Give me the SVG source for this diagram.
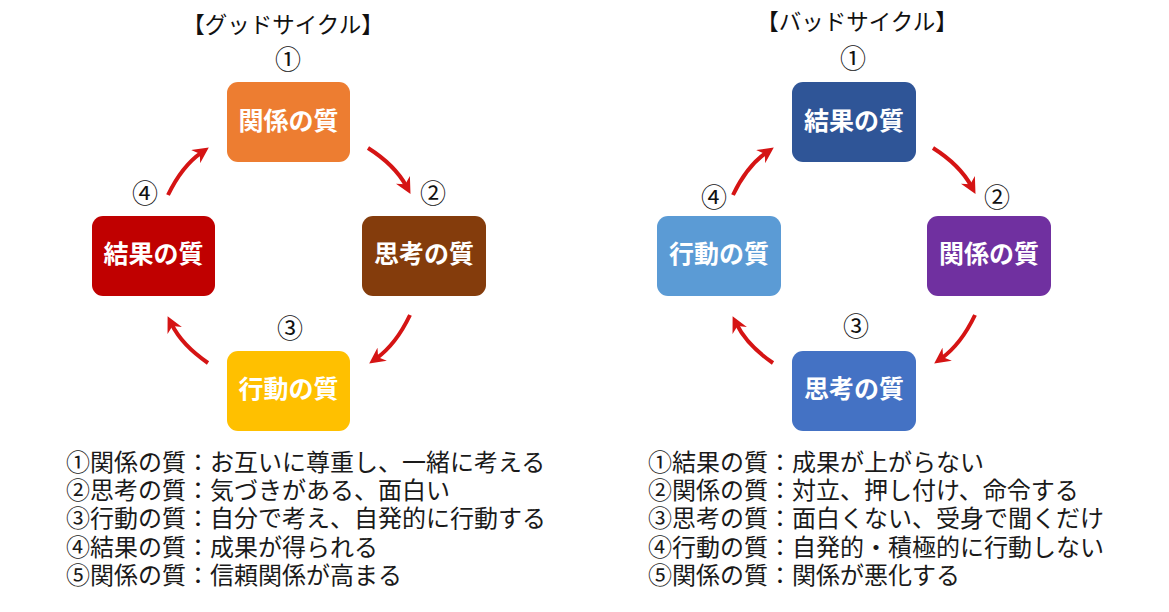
<svg xmlns="http://www.w3.org/2000/svg" width="1169" height="612" viewBox="0 0 1169 612">
<defs>
<marker id="ah" viewBox="0 0 16 16" refX="7" refY="8" markerWidth="16" markerHeight="16" markerUnits="userSpaceOnUse" orient="auto">
<path d="M0,0 L16,8 L0,16 L5,8 Z" fill="#D51414"/>
</marker>
</defs>
<style>
text{font-family:"Noto Sans CJK JP","Noto Sans",sans-serif;}
.title{font-size:22.5px;fill:#111;text-anchor:middle;}
.num{font-size:26px;fill:#111;text-anchor:middle;}
.lbl{font-size:25px;font-weight:bold;fill:#fff;text-anchor:middle;}
.list{font-size:24px;fill:#1a1a1a;}
.box{stroke:none;}
.conn{fill:none;stroke:#D51414;stroke-width:4;marker-end:url(#ah);}
</style>
<rect width="1169" height="612" fill="#fff"/>

<text class="title" x="283" y="33">【グッドサイクル】</text>
<text class="title" x="857" y="30">【バッドサイクル】</text>

<g id="good-1">
<text class="num" x="288" y="69">①</text>
<rect class="box" x="227" y="82" width="123" height="80" rx="11" fill="#ED7D31"/>
<text class="lbl" x="288.5" y="130">関係の質</text>
</g>
<g id="good-2">
<text class="num" x="433" y="203">②</text>
<rect class="box" x="362" y="216" width="124" height="80" rx="11" fill="#843C0C"/>
<text class="lbl" x="424" y="263">思考の質</text>
</g>
<g id="good-3">
<text class="num" x="290" y="338">③</text>
<rect class="box" x="227" y="351" width="123" height="80" rx="11" fill="#FFC000"/>
<text class="lbl" x="288.5" y="398">行動の質</text>
</g>
<g id="good-4">
<text class="num" x="145" y="203">④</text>
<rect class="box" x="92" y="216" width="123" height="80" rx="11" fill="#C00000"/>
<text class="lbl" x="153.5" y="263">結果の質</text>
</g>

<g id="bad-1">
<text class="num" x="853" y="68">①</text>
<rect class="box" x="792" y="82" width="124" height="80" rx="11" fill="#2F5597"/>
<text class="lbl" x="854" y="130">結果の質</text>
</g>
<g id="bad-2">
<text class="num" x="997" y="207">②</text>
<rect class="box" x="927" y="216" width="124" height="80" rx="11" fill="#7030A0"/>
<text class="lbl" x="989" y="263">関係の質</text>
</g>
<g id="bad-3">
<text class="num" x="856" y="336">③</text>
<rect class="box" x="792" y="351" width="124" height="80" rx="11" fill="#4472C4"/>
<text class="lbl" x="854" y="398">思考の質</text>
</g>
<g id="bad-4">
<text class="num" x="714" y="207">④</text>
<rect class="box" x="657" y="216" width="124" height="80" rx="11" fill="#5B9BD5"/>
<text class="lbl" x="719" y="263">行動の質</text>
</g>

<g id="connectors">
<path class="conn" d="M168,195 Q182,166 201.4,152.6"/>
<path class="conn" d="M368,148 Q394.8,165 406.2,186"/>
<path class="conn" d="M410,315 Q396.1,344.1 376.5,358.3"/>
<path class="conn" d="M208,363 Q182,345.2 171.6,324.2"/>
<g transform="translate(565,0)">
<path class="conn" d="M168,195 Q182,166 201.4,152.6"/>
<path class="conn" d="M368,148 Q394.8,165 406.2,186"/>
<path class="conn" d="M410,315 Q396.1,344.1 376.5,358.3"/>
<path class="conn" d="M208,363 Q182,345.2 171.6,324.2"/>
</g>
</g>

<g id="good-list">
<text class="list" x="66" y="471">①関係の質：お互いに尊重し、一緒に考える</text>
<text class="list" x="66" y="499">②思考の質：気づきがある、面白い</text>
<text class="list" x="66" y="527">③行動の質：自分で考え、自発的に行動する</text>
<text class="list" x="66" y="556">④結果の質：成果が得られる</text>
<text class="list" x="66" y="584">⑤関係の質：信頼関係が高まる</text>
</g>
<g id="bad-list">
<text class="list" x="648" y="471">①結果の質：成果が上がらない</text>
<text class="list" x="648" y="499">②関係の質：対立、押し付け、命令する</text>
<text class="list" x="648" y="527">③思考の質：面白くない、受身で聞くだけ</text>
<text class="list" x="648" y="556">④行動の質：自発的・積極的に行動しない</text>
<text class="list" x="648" y="584">⑤関係の質：関係が悪化する</text>
</g>
</svg>
